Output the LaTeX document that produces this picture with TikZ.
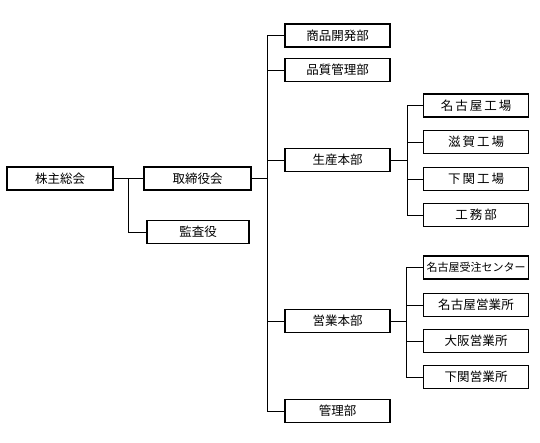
\documentclass[tikz,border=0pt]{standalone}
\usepackage{fontspec}
\setmainfont{Noto Sans CJK JP}
\usetikzlibrary{shadows}
\begin{document}
\begin{tikzpicture}[x=1pt,y=-1pt,
  box/.style={draw=black, line width=1.2pt, fill=white, minimum width=105pt, minimum height=23pt,
    inner sep=0pt, font=\fontsize{12.5}{13}\selectfont,
    drop shadow={shadow xshift=0.8pt, shadow yshift=-0.8pt, fill=gray!70, opacity=1}},
  wide/.style={font=\fontsize{12.5}{13}\selectfont\addfontfeature{LetterSpace=16}},
  mid/.style={font=\fontsize{12.5}{13}\selectfont\addfontfeature{LetterSpace=1}},
  line/.style={draw=black, line width=1pt}]
\useasboundingbox (0,0) rectangle (540,442);
% left column
\node[box, minimum width=106pt] (kabu) at (60,178.5) {株主総会};
\node[box, minimum width=107pt] (tori) at (197.5,178.5) {取締役会};
\node[box, minimum width=102pt] (kansa) at (198,232) {監査役};
% middle column
\node[box] (shohin) at (337.5,35.5) {商品開発部};
\node[box] (hinshitsu) at (337.5,70) {品質管理部};
\node[box] (seisan) at (337.5,160) {生産本部};
\node[box] (eigyo) at (337.5,321) {営業本部};
\node[box] (kanri) at (337.5,411) {管理部};
% right column (production)
\node[box, wide] (nagoyaf) at (476,105.5) {名古屋工場};
\node[box, wide] (shiga) at (476,142) {滋賀工場};
\node[box, wide] (shimof) at (476,179) {下関工場};
\node[box, wide] (komu) at (476,215) {工務部};
% right column (sales)
\node[box, font=\fontsize{11}{12}\selectfont] (juchu) at (476,267.5) {名古屋受注センター};
\node[box, mid] (nagoyae) at (476,305) {名古屋営業所};
\node[box, mid] (osaka) at (476,341) {大阪営業所};
\node[box, mid] (shimoe) at (476,377) {下関営業所};
% junction coordinates
\coordinate (j1) at (128,178.5);
\coordinate (j2) at (267,178.5);
\coordinate (j3) at (407,160);
\coordinate (j4) at (406,321);
% connectors
\draw[line] (kabu.east) -- (tori.west);
\draw[line] (j1) |- (kansa.west);
\draw[line] (tori.east) -- (j2);
\draw[line] (j2) |- (shohin.west);
\draw[line] (j2) |- (hinshitsu.west);
\draw[line] (j2) |- (seisan.west);
\draw[line] (j2) |- (eigyo.west);
\draw[line] (j2) |- (kanri.west);
\draw[line] (seisan.east) -- (j3);
\draw[line] (j3) |- (nagoyaf.west);
\draw[line] (j3) |- (shiga.west);
\draw[line] (j3) |- (shimof.west);
\draw[line] (j3) |- (komu.west);
\draw[line] (eigyo.east) -- (j4);
\draw[line] (j4) |- (juchu.west);
\draw[line] (j4) |- (nagoyae.west);
\draw[line] (j4) |- (osaka.west);
\draw[line] (j4) |- (shimoe.west);
\end{tikzpicture}
\end{document}
